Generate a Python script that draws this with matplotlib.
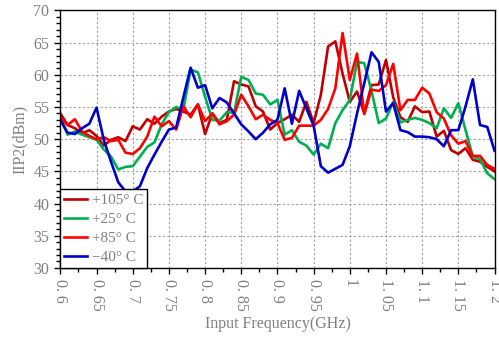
import numpy as np
import matplotlib.pyplot as plt
from matplotlib.ticker import MultipleLocator

# frequenze di misura (GHz)
freq = np.round(np.arange(0.60, 1.2001, 0.01), 2)

iip2_105 = [54.0, 52.2, 51.7, 50.9, 51.4, 50.5, 49.0, 49.9, 50.3, 49.7,
            52.0, 51.5, 53.1, 52.4, 53.5, 54.3, 54.7, 54.3, 53.8, 55.4,
            50.8, 54.0, 52.5, 53.0, 59.0, 58.5, 58.2, 55.1, 54.3, 51.5,
            52.5, 53.1, 53.8, 52.7, 55.8, 52.5, 56.9, 64.4, 65.2, 60.2,
            55.8, 57.4, 54.0, 58.4, 58.5, 62.3, 56.5, 53.4, 52.7, 55.1,
            54.2, 54.3, 50.4, 51.3, 48.3, 47.7, 48.6, 46.8, 46.5, 45.7,
            45.0]
iip2_25 = [53.2, 50.7, 51.2, 50.7, 50.3, 49.9, 48.4, 47.3, 45.3, 45.7,
           45.8, 47.3, 48.8, 49.5, 52.3, 54.2, 55.0, 54.6, 60.8, 60.4,
           56.6, 53.0, 52.9, 54.2, 54.1, 59.7, 59.2, 57.1, 56.9, 55.4,
           56.1, 50.7, 51.4, 49.6, 49.0, 47.6, 49.3, 48.6, 52.5, 54.5,
           56.1, 62.0, 61.8, 57.5, 52.5, 53.2, 55.8, 52.6, 53.0, 53.3,
           53.0, 52.5, 51.7, 54.8, 53.3, 55.6, 51.4, 47.3, 46.9, 44.7,
           43.8]
iip2_85 = [53.3, 52.2, 53.1, 51.2, 50.5, 50.0, 50.3, 49.7, 49.9, 47.9,
           47.7, 48.6, 50.4, 53.5, 52.0, 52.8, 51.5, 55.1, 53.4, 55.4,
           52.8, 54.0, 52.3, 52.8, 53.8, 56.9, 55.1, 53.1, 53.8, 53.0,
           52.5, 49.9, 50.2, 52.1, 52.1, 52.1, 53.0, 54.7, 57.9, 66.5,
           59.2, 63.3, 53.9, 57.7, 57.5, 58.4, 61.7, 54.5, 56.1, 56.1,
           58.0, 57.1, 54.2, 53.2, 50.6, 49.3, 49.7, 47.4, 47.4, 46.0,
           45.4]
iip2_m40 = [53.0, 51.0, 50.8, 51.7, 52.4, 54.9, 49.9, 46.5, 43.3, 41.9,
            41.9, 42.7, 45.5, 47.6, 49.6, 51.5, 51.8, 56.5, 61.1, 58.0,
            58.4, 54.8, 56.4, 55.7, 54.0, 52.3, 51.2, 50.0, 51.0, 52.3,
            53.0, 57.9, 52.4, 57.5, 54.8, 52.1, 45.8, 44.8, 45.4, 46.0,
            48.9, 54.0, 58.7, 63.5, 62.0, 54.3, 55.6, 51.4, 51.1, 50.4,
            50.4, 50.3, 50.0, 48.9, 51.4, 51.4, 55.1, 59.3, 52.2, 51.9,
            48.2]

serie = [
    ('+105° C', iip2_105, '#C00000'),
    ('+25° C', iip2_25, '#00B050'),
    ('+85° C', iip2_85, '#FF0000'),
    ('−40° C', iip2_m40, '#0000CC'),
]

grigio = '#808080'
font = 'Liberation Serif'

fig = plt.figure(figsize=(4.99, 3.37), dpi=100)
ax = fig.add_axes([0.121, 0.205, 0.870, 0.764])

for nome, valori, colore in serie:
    ax.plot(freq, valori, color=colore, lw=1.9, label=nome)

ax.set_xlim(0.6, 1.2)
ax.set_ylim(30, 70)
ax.xaxis.set_major_locator(MultipleLocator(0.05))
ax.xaxis.set_minor_locator(MultipleLocator(0.025))
ax.yaxis.set_major_locator(MultipleLocator(5))
ax.yaxis.set_minor_locator(MultipleLocator(1))

xt = np.round(np.arange(0.6, 1.2001, 0.05), 2)
ax.set_xticks(xt)
ax.set_xticklabels([('%g' % v).replace('.', '. ') for v in xt],
                   rotation=270, va='top', ha='center')
ax.tick_params(axis='both', which='major', length=4, width=1, direction='out',
               labelsize=11.5, labelcolor=grigio, pad=4)
ax.tick_params(axis='both', which='minor', length=3, width=1, direction='out')
for lab in ax.get_xticklabels() + ax.get_yticklabels():
    lab.set_fontfamily(font)

ax.grid(True, which='major', color='#A0A0A0', linestyle=(0, (2, 2)), lw=0.8)
ax.set_axisbelow(True)
for s in ax.spines.values():
    s.set_linewidth(1.0)
    s.set_color('black')

ax.set_xlabel('Input Frequency(GHz)', fontsize=11.5, color=grigio, family=font, labelpad=4)
ax.set_ylabel('IIP2(dBm)', fontsize=11.5, color=grigio, family=font, labelpad=4)

leg = ax.legend(loc='lower left', bbox_to_anchor=(0, 0), borderaxespad=0,
                fancybox=False, edgecolor='black', framealpha=1,
                prop={'family': font, 'size': 11}, labelcolor=grigio,
                handlelength=1.5, handletextpad=0.3, labelspacing=0.35,
                borderpad=0.25)
leg.get_frame().set_linewidth(1.0)

plt.savefig('out.png', dpi=100)
